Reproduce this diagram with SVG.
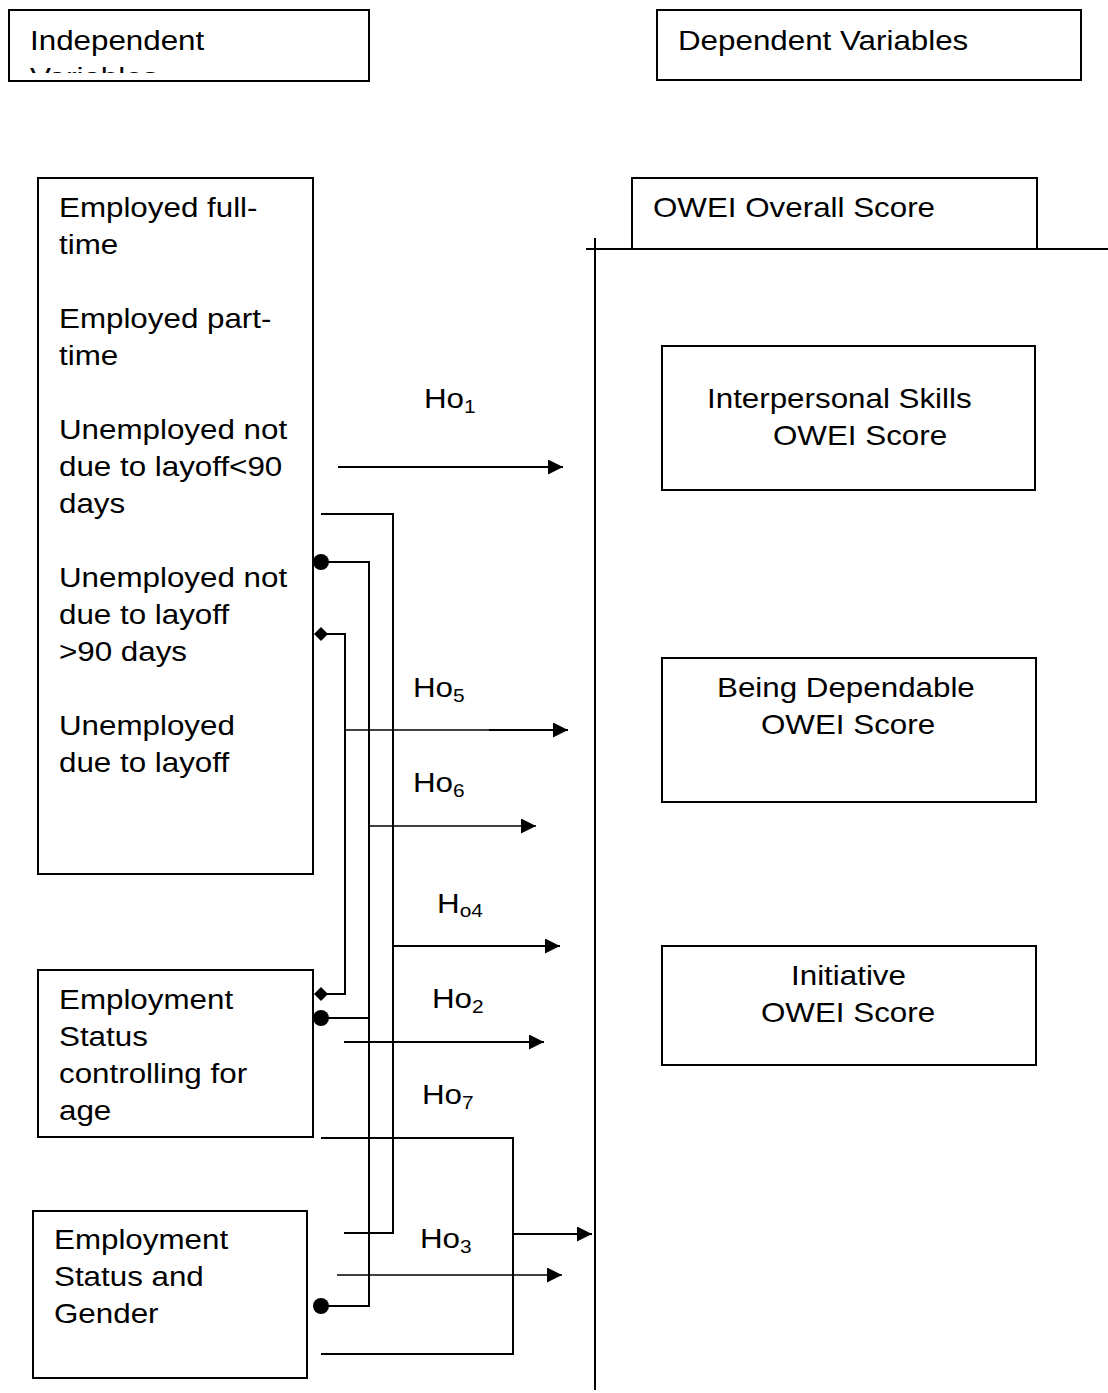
<svg xmlns="http://www.w3.org/2000/svg" width="1108" height="1393" viewBox="0 0 1108 1393">
<style>
.box{fill:none;stroke:#000;stroke-width:2}
.t{font-family:"Liberation Sans",Arial,sans-serif;font-size:28.5px;fill:#000}
.sub{font-size:19px}
.c{fill:none;stroke:#000;stroke-width:2}
.thin{fill:none;stroke:#000;stroke-width:1.5}
</style>
<defs>
<marker id="arr" markerUnits="userSpaceOnUse" markerWidth="16" markerHeight="16" refX="15" refY="7.5" orient="auto"><path d="M0,0 L15,7.5 L0,15 Z" fill="#000"/></marker>
<marker id="dot" markerUnits="userSpaceOnUse" markerWidth="18" markerHeight="18" refX="9" refY="9"><circle cx="9" cy="9" r="8" fill="#000"/></marker>
<marker id="dia" markerUnits="userSpaceOnUse" markerWidth="16" markerHeight="16" refX="8" refY="8"><path d="M1,8 L8,1 L15,8 L8,15 Z" fill="#000"/></marker>
<clipPath id="clipIV"><rect x="9" y="10" width="360" height="63"/></clipPath>
</defs>
<rect width="1108" height="1393" fill="#fff"/>

<g id="independent-header">
<rect class="box" x="9" y="10" width="360" height="71"/>
<g clip-path="url(#clipIV)">
<text class="t" transform="translate(30,50) scale(1.1,1)"><tspan x="0">Independent</tspan><tspan x="0" dy="37">Variables</tspan></text>
</g>
</g>

<g id="dependent-header">
<rect class="box" x="657" y="10" width="424" height="70"/>
<text class="t" transform="translate(678,50) scale(1.1,1)">Dependent Variables</text>
</g>

<g id="employment-categories">
<rect class="box" x="38" y="178" width="275" height="696"/>
<text class="t" transform="translate(59,217) scale(1.1,1)"><tspan x="0">Employed full-</tspan><tspan x="0" dy="37">time</tspan><tspan x="0" dy="74">Employed part-</tspan><tspan x="0" dy="37">time</tspan><tspan x="0" dy="74">Unemployed not</tspan><tspan x="0" dy="37">due to layoff&lt;90</tspan><tspan x="0" dy="37">days</tspan><tspan x="0" dy="74">Unemployed not</tspan><tspan x="0" dy="37">due to layoff</tspan><tspan x="0" dy="37">&gt;90 days</tspan><tspan x="0" dy="74">Unemployed</tspan><tspan x="0" dy="37">due to layoff</tspan></text>
</g>

<g id="status-age">
<rect class="box" x="38" y="970" width="275" height="167"/>
<text class="t" transform="translate(59,1009) scale(1.1,1)"><tspan x="0">Employment</tspan><tspan x="0" dy="37">Status</tspan><tspan x="0" dy="37">controlling for</tspan><tspan x="0" dy="37">age</tspan></text>
</g>

<g id="status-gender">
<rect class="box" x="33" y="1211" width="274" height="167"/>
<text class="t" transform="translate(54,1249) scale(1.1,1)"><tspan x="0">Employment</tspan><tspan x="0" dy="37">Status and</tspan><tspan x="0" dy="37">Gender</tspan></text>
</g>

<g id="overall-score">
<path class="box" d="M632,249 V178 H1037 V249"/>
<text class="t" transform="translate(653,217) scale(1.1,1)">OWEI Overall Score</text>
</g>

<g id="interpersonal">
<rect class="box" x="662" y="346" width="373" height="144"/>
<text class="t" transform="translate(707,408) scale(1.1,1)">Interpersonal Skills</text>
<text class="t" transform="translate(773,445) scale(1.1,1)">OWEI Score</text>
</g>

<g id="dependable">
<rect class="box" x="662" y="658" width="374" height="144"/>
<text class="t" transform="translate(717,697) scale(1.1,1)">Being Dependable</text>
<text class="t" transform="translate(761,734) scale(1.1,1)">OWEI Score</text>
</g>

<g id="initiative">
<rect class="box" x="662" y="946" width="374" height="119"/>
<text class="t" transform="translate(791,985) scale(1.1,1)">Initiative</text>
<text class="t" transform="translate(761,1022) scale(1.1,1)">OWEI Score</text>
</g>

<g id="connectors">
<path class="c" d="M586,249 H1108"/>
<path class="c" d="M595,238 V1390"/>
<path class="c" d="M338,467 H563" marker-end="url(#arr)"/>
<path class="c" d="M321,514 H393 V1233 H344"/>
<path class="c" d="M321,562 H369 V1306 H321" marker-start="url(#dot)" marker-end="url(#dot)"/>
<path class="c" d="M321,1018 H369" marker-start="url(#dot)"/>
<path class="c" d="M321,634 H345 V994 H321" marker-start="url(#dia)" marker-end="url(#dia)"/>
<path class="thin" d="M345,730 H490"/>
<path class="c" d="M489,730 H568" marker-end="url(#arr)"/>
<path class="thin" d="M369,826 H536" marker-end="url(#arr)"/>
<path class="c" d="M393,946 H560" marker-end="url(#arr)"/>
<path class="c" d="M344,1042 H544" marker-end="url(#arr)"/>
<path class="c" d="M321,1138 H513 V1354 H321"/>
<path class="c" d="M513,1234 H592" marker-end="url(#arr)"/>
<path class="thin" d="M337,1275 H562" marker-end="url(#arr)"/>
</g>

<g id="labels">
<text class="t" transform="translate(424,408) scale(1.1,1)">Ho<tspan class="sub" dy="5">1</tspan></text>
<text class="t" transform="translate(413,697) scale(1.1,1)">Ho<tspan class="sub" dy="5">5</tspan></text>
<text class="t" transform="translate(413,792) scale(1.1,1)">Ho<tspan class="sub" dy="5">6</tspan></text>
<text class="t" transform="translate(437,913) scale(1.1,1)">H<tspan class="sub" dy="4">o4</tspan></text>
<text class="t" transform="translate(432,1008) scale(1.1,1)">Ho<tspan class="sub" dy="5">2</tspan></text>
<text class="t" transform="translate(422,1104) scale(1.1,1)">Ho<tspan class="sub" dy="5">7</tspan></text>
<text class="t" transform="translate(420,1248) scale(1.1,1)">Ho<tspan class="sub" dy="5">3</tspan></text>
</g>
</svg>
